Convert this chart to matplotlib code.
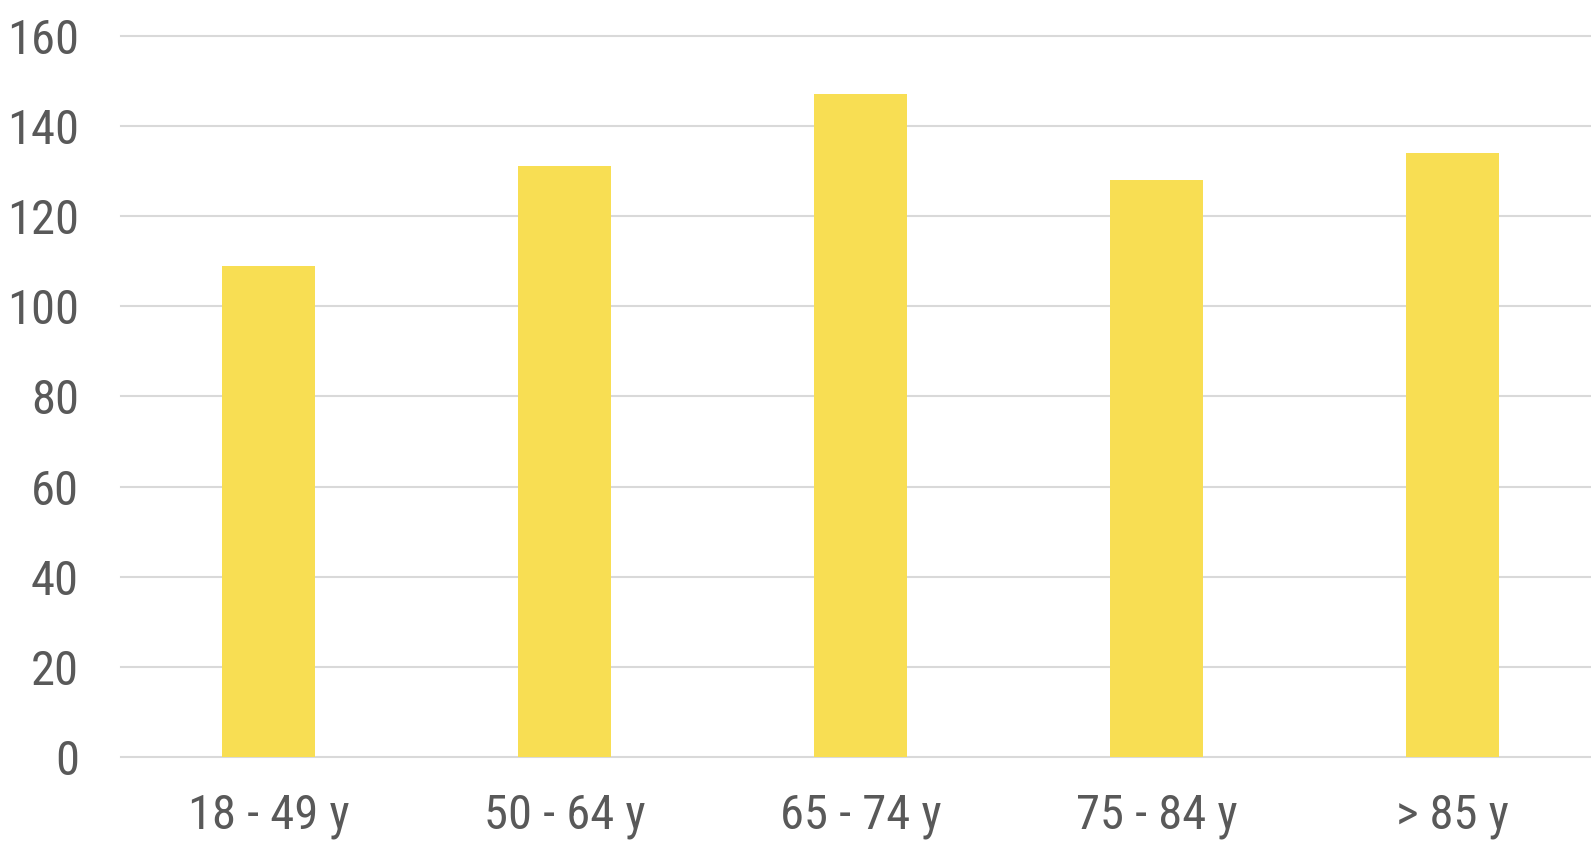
import matplotlib
matplotlib.use('Agg')
import matplotlib.pyplot as plt
import numpy as np

# data
categories = ['18 - 49 y', '50 - 64 y', '65 - 74 y', '75 - 84 y', '> 85 y']
values = [109, 131, 147, 128, 134]
yticks = [0, 20, 40, 60, 80, 100, 120, 140, 160]

plt.rcParams['font.family'] = ['Liberation Sans Narrow', 'Roboto Condensed', 'Archivo Narrow',
                               'Liberation Sans', 'DejaVu Sans']

W, H = 1591, 841
fig = plt.figure(figsize=(W / 100, H / 100), dpi=100)
left = 120.5 / W
bottom = (H - 757.3) / H
top = (H - 35.5) / H
ax = fig.add_axes([left, bottom, 1 - left, top - bottom])

x = np.arange(len(categories))
ax.bar(x, values, width=0.314, color='#F8DE53', zorder=3)

ax.set_ylim(0, 160)
# plot area is cut off by the right edge of the picture
ax.set_xlim(-0.5, -0.5 + (W - 120.5) / 296)
ax.set_yticks(yticks)
ax.set_xticks(x)
ax.set_xticklabels(categories)
ax.grid(axis='y', color='#D9D9D9', linewidth=1.5, zorder=0)
for gl in ax.get_ygridlines():
    gl.set_clip_on(False)
for s in ax.spines.values():
    s.set_visible(False)
ax.tick_params(axis='both', length=0, labelsize=35, labelcolor='#595959')
ax.tick_params(axis='y', pad=30)
ax.tick_params(axis='x', pad=26)

fig.savefig('out.png', dpi=100)
